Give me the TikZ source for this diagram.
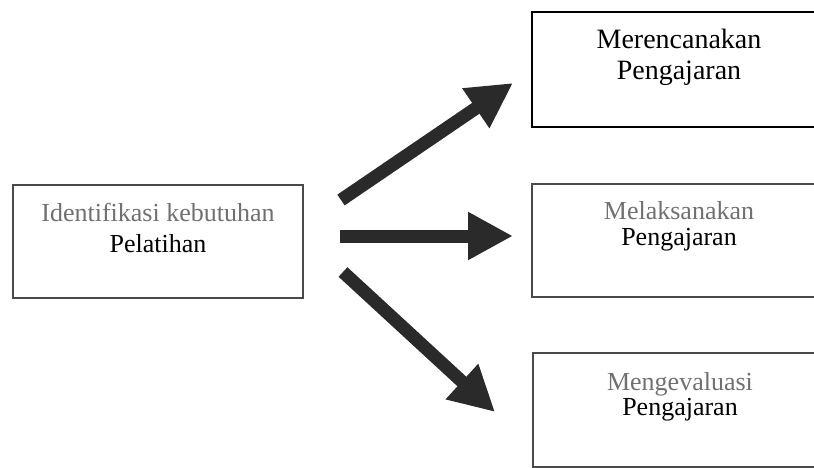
\documentclass[tikz,border=0pt]{standalone}
\usepackage{fontspec}
\setmainfont{Liberation Serif}
\usetikzlibrary{arrows.meta}
\definecolor{pudar}{HTML}{707070}
\definecolor{garis}{HTML}{4A4A4A}
\definecolor{panah}{HTML}{2A2A2A}
\tikzset{
  kotak/.style={draw=garis, line width=1.5pt, minimum width=294pt, minimum height=114pt, inner sep=0pt},
  isi/.style={align=center, inner sep=0pt, anchor=north, font=\fontsize{26}{26}\selectfont},
  panahtebal/.style={draw=panah, line width=13pt, -{Triangle[length=45pt,width=45pt]}}
}
\begin{document}
\begin{tikzpicture}[x=1pt,y=-1pt]
  \useasboundingbox (0,0) rectangle (814,468);
  % kotak
  \node (ident) [kotak, minimum width=290pt, minimum height=113pt] at (158,241.5) {};
  \node (rencana) [kotak, draw=black, line width=2pt, minimum height=115pt] at (679,69.5) {};
  \node (laksana) [kotak, minimum height=113pt] at (679,240.5) {};
  \node (evaluasi) [kotak] at (680,410) {};
  % teks
  \node (identisi) [isi, font=\fontsize{26}{31}\selectfont] at ([yshift=-19pt]ident.north)
    {{\color{pudar}Identifikasi kebutuhan}\\Pelatihan};
  \node (rencanaisi) [isi, font=\fontsize{28}{31}\selectfont] at ([yshift=-18pt]rencana.north)
    {Merencanakan\\Pengajaran};
  \node (laksanaisi) [isi] at ([yshift=-18.5pt]laksana.north)
    {{\color{pudar}Melaksanakan}\\Pengajaran};
  \node (evaluasiisi) [isi, font=\fontsize{26}{25}\selectfont] at ([yshift=-20pt]evaluasi.north)
    {{\color{pudar}Mengevaluasi}\\Pengajaran};
  % panah
  \coordinate (a1) at (341,200);
  \coordinate (b1) at (513,83);
  \coordinate (a2) at (340,236);
  \coordinate (b2) at (513,236);
  \coordinate (a3) at (343,272);
  \coordinate (b3) at (495,412);
  \draw[panahtebal] (a1) -- (b1);
  \draw[panahtebal] (a2) -- (b2);
  \draw[panahtebal] (a3) -- (b3);
\end{tikzpicture}
\end{document}
